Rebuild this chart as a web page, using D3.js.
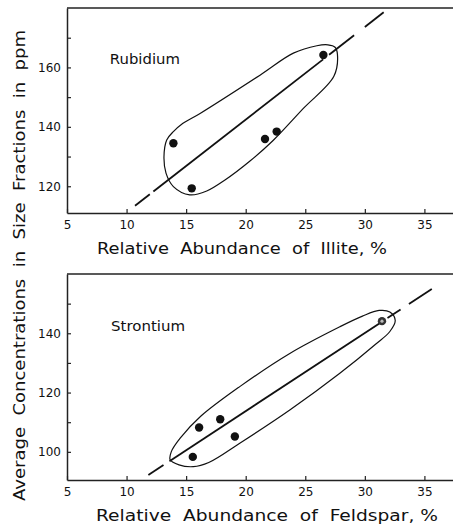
<!DOCTYPE html>
<html><head><meta charset="utf-8">
<script src="https://cdn.jsdelivr.net/npm/d3@7"></script>
<style>
body{margin:0;background:#fff}
svg{display:block}
text{font-family:"DejaVu Sans",sans-serif;fill:#111}
</style>
</head><body>
<svg id="c" width="453" height="526"></svg>
<script>
// ---- data ----
const rbIllite = [13.93, 15.47, 21.62, 22.6, 26.52];
const rbPpm    = [134.5, 119.3, 135.9, 138.4, 164.2];
const srFeldspar = [15.56, 16.09, 17.86, 19.09, 31.44];
const srPpm      = [98.3, 108.2, 111.0, 105.2, 144.1];
const srMarker   = ["solid","solid","solid","solid","ring"];

const xTickValues = [5, 10, 15, 20, 25, 30, 35];
const rbYLabels = [120, 140, 160];
const rbYTicks  = [120, 130, 140, 150, 160, 170];
const srYLabels = [100, 120, 140];
const srYTicks  = [100, 110, 120, 130, 140, 150];

// fitted lines: endpoints, and the x-ranges drawn as strokes (dashed look)
const rbFit = [[10.71, 113.46], [31.58, 178.55]];
const rbFitSegments = [[10.71, 11.95], [12.25, 26.5], [27.0, 29.1], [30.0, 31.58]];
const srFit = [[11.83, 92.19], [35.62, 154.94]];
const srFitSegments = [[11.83, 13.1], [13.6, 31.44], [31.9, 33.0], [33.7, 35.62]];

// hand-drawn envelopes (data units)
const rbEnvelope = [
  [13.37,135.6],[13.95,138.5],[14.6,140.8],[16.17,144.5],[21.2,157.4],[24.0,164.8],
  [25.97,167.3],[26.9,167.6],[27.5,166.8],[27.7,164.4],[27.4,157.0],[24.84,146.2],
  [22.3,135.4],[20.36,128.5],[18.26,122.1],[16.73,118.4],[15.3,117.1],
  [13.93,119.9],[13.31,124.4],[13.14,129.9]
];
const srEnvelope = [
  [13.66,97.3],[14.4,95.6],[15.6,95.0],[16.9,96.4],[19.5,102.9],[23.7,114.1],
  [27.9,126.5],[30.9,136.3],[32.1,140.6],[32.55,144.3],[32.1,147.2],[31.2,147.7],
  [29.8,145.8],[27.9,142.2],[23.7,133.2],[19.5,122.0],[16.2,111.9],[14.5,104.6],[13.75,100.0]
];

const yTitle = "Average  Concentrations  in  Size  Fractions  in  ppm";
const rbXTitle = "Relative  Abundance  of  Illite, %";
const srXTitle = "Relative  Abundance  of  Feldspar, %";
const rbLabel = "Rubidium", srLabel = "Strontium";

// ---- drawing ----
const svg = d3.select("#c");
const W = 453;

function panel(o){
  const g = svg.append("g");
  const x = d3.scaleLinear().domain([5, 37.4]).range([67, 453]);
  const y = d3.scaleLinear().domain(o.yDomain).range([o.bottom, o.top]);

  g.append("line").attr("x1",67).attr("x2",W).attr("y1",o.top).attr("y2",o.top)
    .attr("stroke","#222").attr("stroke-width",1.3);

  const xAxis = d3.axisBottom(x).tickValues(xTickValues).tickSizeInner(-4).tickSizeOuter(0)
    .tickPadding(8).tickFormat(d3.format("d"));
  const xa = g.append("g").attr("transform",`translate(0,${o.bottom})`).call(xAxis);
  xa.select(".domain").attr("stroke","#222").attr("stroke-width",1.5);
  xa.selectAll(".tick line").attr("stroke","#222").attr("stroke-width",1.2);
  xa.selectAll(".tick text").attr("font-size",12).attr("font-family","DejaVu Sans")
    .attr("dy","0.9em").attr("y",5);

  const yAxis = d3.axisLeft(y).tickValues(o.yTicks).tickSizeInner(-4).tickSizeOuter(0)
    .tickPadding(6).tickFormat(d => o.yLabels.includes(d) ? d : "");
  const ya = g.append("g").attr("transform","translate(67,0)").call(yAxis);
  ya.select(".domain").attr("stroke","#222").attr("stroke-width",1.5);
  ya.selectAll(".tick line").attr("stroke","#222").attr("stroke-width",1.2);
  ya.selectAll(".tick text").attr("font-size",12).attr("font-family","DejaVu Sans").attr("x",-6);

  const env = d3.line().x(d=>x(d[0])).y(d=>y(d[1])).curve(d3.curveCatmullRomClosed.alpha(0.5));
  g.append("path").attr("d",env(o.envelope)).attr("fill","none").attr("stroke","#111").attr("stroke-width",1.2);

  const fy = d3.scaleLinear().domain([o.fit[0][0],o.fit[1][0]]).range([o.fit[0][1],o.fit[1][1]]);
  g.selectAll("line.fit").data(o.segments).join("line").attr("class","fit")
    .attr("x1",d=>x(d[0])).attr("y1",d=>y(fy(d[0])))
    .attr("x2",d=>x(d[1])).attr("y2",d=>y(fy(d[1])))
    .attr("stroke","#111").attr("stroke-width",1.8);

  const pts = o.xs.map((v,i)=>({x:v,y:o.ys[i],m:o.markers? o.markers[i]:"solid"}));
  g.selectAll("circle.pt").data(pts).join("circle").attr("class","pt")
    .attr("cx",d=>x(d.x)).attr("cy",d=>y(d.y)).attr("r",4.2)
    .attr("fill",d=>d.m==="ring"?"#333":"#111");
  g.selectAll("circle.in").data(pts.filter(d=>d.m==="ring")).join("circle").attr("class","in")
    .attr("cx",d=>x(d.x)).attr("cy",d=>y(d.y)).attr("r",1.6).attr("fill","#bbb");

  g.append("text").attr("x",x(o.labelPos[0])).attr("y",y(o.labelPos[1]))
    .attr("font-size",14).attr("textLength",o.labelLen).attr("lengthAdjust","spacingAndGlyphs")
    .text(o.label);

  g.append("text").attr("x",o.titleX0).attr("y",o.bottom+41)
    .attr("font-size",16).attr("textLength",o.titleLen).attr("lengthAdjust","spacingAndGlyphs")
    .style("white-space","pre").text(o.title);
}

panel({top:8,bottom:213,yDomain:[111,180],yTicks:rbYTicks,yLabels:rbYLabels,
  envelope:rbEnvelope,fit:rbFit,segments:rbFitSegments,xs:rbIllite,ys:rbPpm,
  label:rbLabel,labelPos:[8.6,161.2],labelLen:70,title:rbXTitle,titleX0:97,titleLen:290});
panel({top:274,bottom:480,yDomain:[90.5,160],yTicks:srYTicks,yLabels:srYLabels,
  envelope:srEnvelope,fit:srFit,segments:srFitSegments,xs:srFeldspar,ys:srPpm,markers:srMarker,
  label:srLabel,labelPos:[8.7,140.8],labelLen:74,title:srXTitle,titleX0:96,titleLen:342});

svg.append("text").attr("transform","translate(25,501) rotate(-90)")
  .attr("font-size",16).attr("textLength",471).attr("lengthAdjust","spacingAndGlyphs")
  .style("white-space","pre").text(yTitle);
</script>
</body></html>
